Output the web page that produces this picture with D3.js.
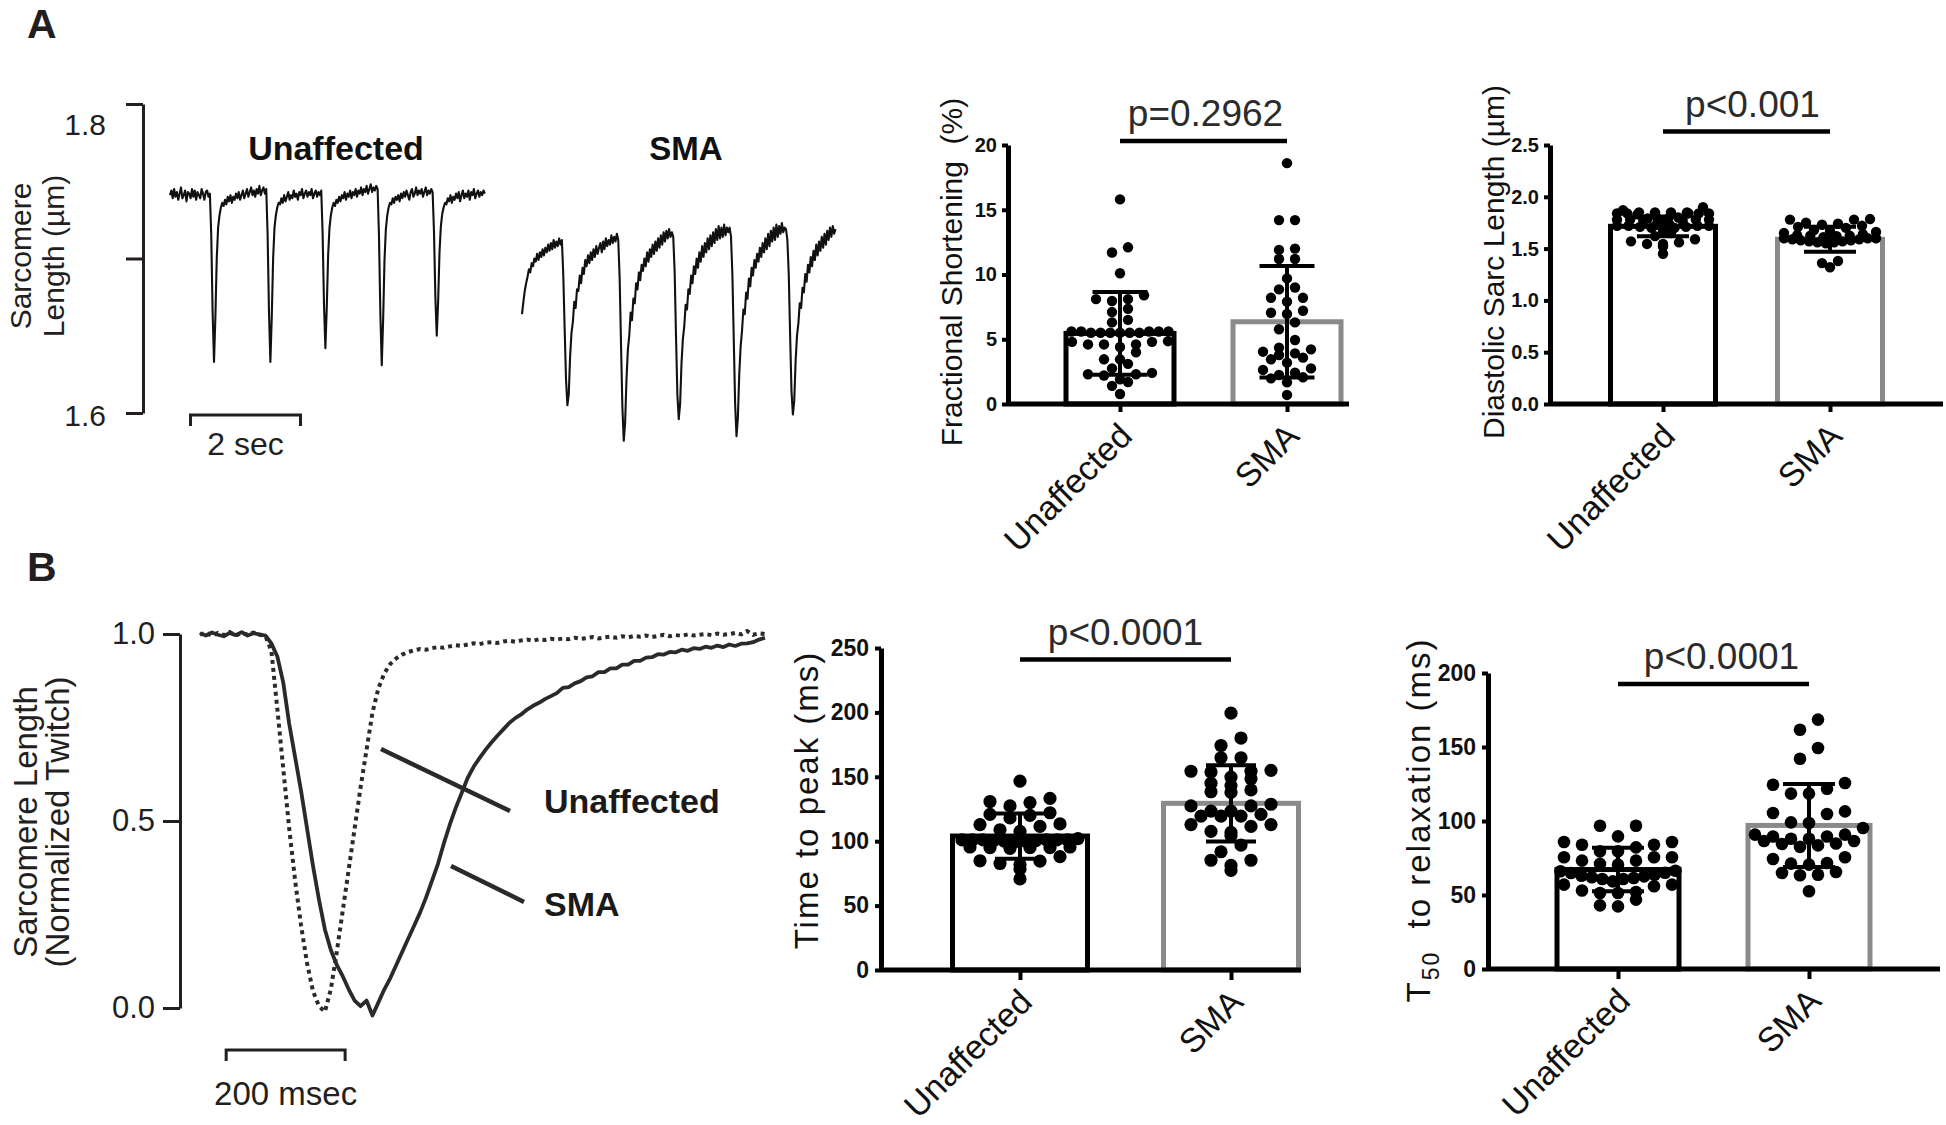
<!DOCTYPE html>
<html><head><meta charset="utf-8">
<script src="https://cdn.jsdelivr.net/npm/d3@7"></script>
<style>
html,body{margin:0;padding:0;background:#fff;}
svg{display:block;font-family:Arial,"Liberation Sans",Helvetica,sans-serif;}
</style></head><body>
<svg id="fig" width="1946" height="1125"></svg>
<script>
// ================= DATA =================
// Panel A raw traces (sarcomere length, µm), sampled every 0.025 s
const traceA_dt = 0.025;
const traceA_unaffected = [
1.741,1.744,1.739,1.745,1.740,1.743,1.738,1.742,1.746,1.739,
1.741,1.744,1.737,1.743,1.742,1.739,1.745,1.740,1.744,1.738,
1.743,1.741,1.739,1.745,1.742,1.738,1.743,1.744,1.740,1.742,
1.715,1.665,1.633,1.662,1.700,1.720,1.728,1.733,1.736,
1.734,1.738,1.735,1.740,1.737,1.741,1.736,1.740,1.738,1.742,
1.739,1.743,1.738,1.741,1.744,1.739,1.742,1.745,1.740,1.743,
1.746,1.741,1.744,1.740,1.745,1.742,1.747,1.741,1.744,1.746,
1.742,1.745,
1.715,1.665,1.633,1.662,1.700,1.720,1.728,1.733,1.736,
1.735,1.739,1.736,1.741,1.737,1.740,1.743,1.738,1.741,1.739,
1.744,1.740,1.742,1.738,1.743,1.741,1.745,1.739,1.742,1.744,
1.740,1.743,1.741,1.745,1.739,1.742,1.744,1.740,1.743,1.741,
1.744,
1.716,1.670,1.642,1.668,1.702,1.720,1.728,1.733,1.736,
1.734,1.738,1.736,1.740,1.737,1.741,1.739,1.743,1.738,1.742,
1.740,1.744,1.739,1.743,1.741,1.745,1.740,1.744,1.742,1.746,
1.741,1.745,1.743,1.747,1.742,1.745,1.748,1.743,1.746,1.744,
1.747,1.745,
1.714,1.664,1.631,1.660,1.699,1.719,1.728,1.733,1.736,
1.735,1.739,1.736,1.740,1.738,1.741,1.737,1.742,1.739,1.743,
1.740,1.744,1.741,1.738,1.743,1.745,1.740,1.742,1.746,1.741,
1.744,1.742,1.745,1.740,1.743,1.746,1.741,1.744,1.742,1.745,
1.743,
1.717,1.675,1.650,1.672,1.704,1.721,1.729,1.733,1.736,
1.735,1.739,1.737,1.741,1.736,1.740,1.738,1.742,1.739,1.743,
1.737,1.741,1.744,1.739,1.742,1.740,1.744,1.738,1.743,1.741,
1.745,1.739,1.742,1.744,1.740,1.743,1.741,1.744,1.742];
const traceA_sma = [
1.664,1.672,1.679,1.684,1.688,1.693,1.691,1.697,1.695,1.700,
1.698,1.703,1.699,1.704,1.701,1.706,1.702,1.707,1.704,1.709,
1.705,1.710,1.706,1.712,1.707,1.711,1.708,1.713,1.709,
1.712,1.690,1.655,1.622,1.605,1.612,
1.637,1.652,1.659,1.672,1.668,1.680,1.679,1.689,1.684,1.694,
1.690,1.699,1.695,1.702,1.697,1.704,1.699,1.706,1.701,1.708,
1.703,1.707,1.710,1.704,1.711,1.706,1.713,1.708,1.712,1.709,
1.715,1.710,1.714,1.711,1.716,
1.712,1.688,1.645,1.604,1.582,1.594,
1.622,1.641,1.650,1.665,1.660,1.674,1.671,1.684,1.680,1.691,
1.686,1.696,1.692,1.700,1.695,1.704,1.698,1.706,1.701,1.709,
1.703,1.711,1.705,1.713,1.707,1.715,1.709,1.717,1.711,1.718,
1.713,1.719,1.714,1.717,
1.714,1.692,1.650,1.612,1.596,1.606,
1.632,1.648,1.656,1.670,1.667,1.680,1.677,1.689,1.684,1.695,
1.690,1.700,1.694,1.704,1.698,1.708,1.701,1.710,1.704,1.713,
1.706,1.715,1.708,1.717,1.710,1.719,1.712,1.721,1.713,1.720,
1.714,1.722,1.715,1.720,1.717,
1.720,1.714,1.690,1.648,1.606,1.585,1.597,
1.625,1.643,1.653,1.667,1.664,1.678,1.674,1.687,1.682,1.694,
1.689,1.699,1.694,1.703,1.698,1.707,1.701,1.710,1.704,1.713,
1.706,1.716,1.708,1.718,1.711,1.720,1.712,1.722,1.714,1.721,
1.716,1.723,1.717,1.720,
1.719,1.712,1.690,1.650,1.614,1.599,1.608,
1.634,1.650,1.658,1.671,1.668,1.681,1.678,1.690,1.685,1.696,
1.691,1.701,1.695,1.705,1.699,1.709,1.702,1.711,1.705,1.714,
1.707,1.716,1.709,1.718,1.712,1.720,1.714,1.721,1.716,1.719];
const traceA_ticks = [1.6, 1.7, 1.8];
const traceA_scaleBarSec = 2;

// Panel B averaged normalized twitches, sampled every 10 ms (0..950 ms)
const traceB_dt = 10;
const traceB_unaffected = [
0.998,1.004,0.995,1.003,0.997,1.005,0.996,1.002,0.999,1.004,0.998,
0.995,0.955,0.80,0.64,0.48,0.34,0.22,0.12,0.045,0.005,-0.01,0.05,
0.15,0.26,0.37,0.48,0.59,0.69,0.79,0.855,0.895,0.92,0.935,0.945,0.952,0.956,
0.960,0.958,0.962,0.965,0.963,0.967,0.970,0.968,0.972,0.975,0.973,0.977,0.978,0.976,
0.980,0.982,0.979,0.983,0.985,0.982,0.986,0.984,0.987,0.985,0.988,0.986,0.990,0.987,
0.989,0.992,0.988,0.991,0.993,0.990,0.994,0.991,0.995,0.993,0.996,0.992,0.995,0.998,
0.994,0.997,0.995,0.999,0.996,0.998,1.000,0.997,1.001,0.998,1.000,1.003,0.999,1.008,
0.998,1.002,1.000];
const traceB_sma = [
1.002,0.996,1.004,0.998,0.994,1.003,0.997,1.005,0.996,1.002,0.999,0.996,
0.975,0.94,0.87,0.76,0.67,0.58,0.48,0.38,0.29,0.21,0.155,0.115,0.085,0.05,0.02,0.005,
0.02,-0.02,0.015,0.05,0.08,0.115,0.15,0.185,0.22,0.255,0.295,0.34,0.385,0.44,0.49,
0.535,0.575,0.615,0.645,0.668,0.69,0.71,0.728,0.745,0.762,0.775,0.785,0.798,0.808,
0.816,0.826,0.834,0.842,0.856,0.858,0.868,0.874,0.884,0.887,0.898,0.898,0.908,0.908,
0.918,0.918,0.928,0.928,0.937,0.938,0.946,0.945,0.952,0.951,0.958,0.955,0.962,0.960,
0.966,0.963,0.969,0.965,0.972,0.968,0.974,0.975,0.978,0.985,0.990];
const traceB_ticks = [0, 0.5, 1.0];
const traceB_scaleBarMs = 200;

// Bar charts
const barCategories = ["Unaffected", "SMA"];

const fsUnaffected = [15.8,12.1,11.7,10.1,8.4,8.1,7.95,8.1,7.1,7.35,6.3,6.5,5.6,5.6,5.5,5.5,5.5,5.6,5.5,5.5,5.5,5.6,5.6,
  4.6,4.6,4.8,4.8,4.85,4.4,4.6,4.0,3.45,3.45,3.1,2.75,2.4,2.3,2.3,2.2,1.7,1.9,1.4,0.77];
const fsSMA = [18.6,14.2,14.2,12.0,11.9,11.2,11.2,9.7,8.85,9.0,8.2,7.9,8.2,7.05,6.95,7.2,6.3,5.77,4.94,4.35,4.04,3.78,
  3.45,3.58,3.91,4.22,3.19,2.75,2.63,2.24,2.06,1.67,1.98,2.42,0.7];
const fsMean = [5.45, 6.35];
const fsSD = [3.2, 4.3];
const fsTicks = [0, 5, 10, 15, 20];
const fsP = "p=0.2962";

const dslUnaffected = [1.90,1.87,1.85,1.84,1.84,1.85,1.84,1.85,1.84,1.85,1.83,1.84,
  1.79,1.78,1.77,1.78,1.79,1.78,1.77,1.78,1.80,1.79,
  1.73,1.72,1.71,1.72,1.70,1.72,1.73,1.71,1.72,1.70,
  1.67,1.65,1.62,1.59,1.56,1.545,1.52,1.545,1.57,1.45];
const dslSMA = [1.78,1.785,1.78,1.75,1.74,1.72,1.70,1.71,1.73,1.65,
  1.625,1.60,1.59,1.58,1.57,1.56,1.55,1.56,1.57,1.58,1.59,1.60,1.625,
  1.60,1.61,1.62,1.63,1.64,1.66,1.67,1.68,1.38,1.32,1.36];
const dslMean = [1.715, 1.59];
const dslSD = [0.095, 0.12];
const dslTicks = [0, 0.5, 1.0, 1.5, 2.0, 2.5];
const dslP = "p<0.001";

const ttpUnaffected = [146.6,133.2,130,127.4,130.8,118.1,120.8,122.1,120,113.4,111.5,108.9,112.9,107.6,
  101,100.5,100,99.5,101,101,102,101,100.5,100,101,101,95,95.5,94.5,95,95,95.5,84.5,81.8,88,78.5,82.7,84.8,70.7];
const ttpSMA = [199.4,180.1,174.3,164.8,164.8,154.3,153.7,154.3,155,145,148.5,149.8,143.2,139.8,137.9,138.4,
  127.4,128.7,127.4,123.4,123.4,119.5,120.8,119.5,119.5,112.9,111.5,107.6,112.9,106.8,104.2,97,91.8,85.2,85.2,77.3,81.2];
const ttpMean = [104, 129.4];
const ttpSD = [17.6, 29.6];
const ttpTicks = [0, 50, 100, 150, 200, 250];
const ttpP = "p<0.0001";

const t50Unaffected = [96.8,96.8,89.6,85.8,84,82.2,84,85.8,79.5,79.5,75.5,75.5,73.2,71,70.5,73.2,75.5,
  66,65,63,62,60.8,60.8,61.5,62.6,63.7,64.9,66.4,53,51.4,46.9,42.3,43,52,51.4,57,55.9,57,59.2];
const t50SMA = [168.5,161.7,149.3,142.1,125.7,124.5,121.8,118.5,118.5,106.5,104.7,105.4,99.1,98.6,95.3,
  90.8,89.5,88,86.5,84.8,83.5,82.5,84.5,86.5,88,89.5,90.8,74.3,71.2,70.5,71.6,75.5,63.7,65.5,63.3,64.9,52.5];
const t50Mean = [67.2, 97];
const t50SD = [14.7, 28];
const t50Ticks = [0, 50, 100, 150, 200];
const t50P = "p<0.0001";

// ================= DRAW =================
const svg = d3.select("#fig");
const ink = "#231f20";
const barColors = ["#000000", "#8a8a8a"];

// Panel letters
svg.append("text").attr("x", 27).attr("y", 38).text("A")
  .style("font", "bold 41px Arial").attr("fill", ink);
svg.append("text").attr("x", 27).attr("y", 581).text("B")
  .style("font", "bold 41px Arial").attr("fill", ink);

// ---------- Panel A trace ----------
(function(){
  const g = svg.append("g");
  const y = d3.scaleLinear().domain([1.6, 1.8]).range([413, 104]);
  const xU = d3.scaleLinear().domain([0, 1]).range([170, 225]);   // 55 px / s
  const xS = d3.scaleLinear().domain([0, 1]).range([522, 577]);
  const ax = g.append("g").attr("transform", "translate(143,0)")
    .call(d3.axisLeft(y).tickValues(traceA_ticks).tickSize(17).tickPadding(20).tickSizeOuter(0)
      .tickFormat(d => Math.abs(d - 1.7) < 1e-9 ? "" : d3.format(".1f")(d)));
  ax.select(".domain").attr("stroke", ink).attr("stroke-width", 3);
  ax.selectAll(".tick line").attr("stroke", ink).attr("stroke-width", 3);
  ax.selectAll(".tick text").style("font", "30px Arial").attr("fill", ink)
    .attr("dy", d => d === 1.8 ? "1.0em" : "0.4em");
  const lineU = d3.line().x((d, i) => xU(i * traceA_dt)).y(d => y(d));
  const lineS = d3.line().x((d, i) => xS(i * traceA_dt)).y(d => y(d));
  g.append("path").attr("d", lineU(traceA_unaffected)).attr("fill", "none")
    .attr("stroke", "#111").attr("stroke-width", 2.1).attr("stroke-linejoin", "round");
  g.append("path").attr("d", lineS(traceA_sma)).attr("fill", "none")
    .attr("stroke", "#111").attr("stroke-width", 2.1).attr("stroke-linejoin", "round");
  g.append("text").attr("x", 336).attr("y", 160).attr("text-anchor", "middle")
    .style("font", "bold 34px Arial").attr("fill", "#111").text("Unaffected");
  g.append("text").attr("x", 686).attr("y", 160).attr("text-anchor", "middle")
    .style("font", "bold 33px Arial").attr("fill", "#111").text("SMA");
  // title
  const t = g.append("text").attr("transform", "translate(31,256) rotate(-90)")
    .attr("text-anchor", "middle").style("font", "30px Arial").attr("fill", ink);
  t.append("tspan").attr("x", 0).attr("y", 0).text("Sarcomere");
  t.append("tspan").attr("x", 0).attr("y", 33).text("Length (µm)");
  // scale bar
  const s0 = 0.373, x0 = xU(s0), x1 = xU(s0 + traceA_scaleBarSec);
  g.append("path").attr("d", `M${x0},426V415H${x1}V426`).attr("fill", "none")
    .attr("stroke", ink).attr("stroke-width", 3);
  g.append("text").attr("x", (x0 + x1) / 2).attr("y", 455).attr("text-anchor", "middle")
    .style("font", "32px Arial").attr("fill", ink).text(traceA_scaleBarSec + " sec");
})();

// ---------- Panel B trace ----------
(function(){
  const g = svg.append("g");
  const y = d3.scaleLinear().domain([0, 1]).range([1008, 634]);
  const x = d3.scaleLinear().domain([0, 950]).range([200, 765]);
  const ax = g.append("g").attr("transform", "translate(180,0)")
    .call(d3.axisLeft(y).tickValues(traceB_ticks).tickSize(17).tickPadding(8).tickSizeOuter(0)
      .tickFormat(d3.format(".1f")));
  ax.select(".domain").attr("stroke", ink).attr("stroke-width", 3);
  ax.selectAll(".tick line").attr("stroke", ink).attr("stroke-width", 3);
  ax.selectAll(".tick text").style("font", "31px Arial").attr("fill", ink);
  const line = d3.line().x((d, i) => x(i * traceB_dt)).y(d => y(d));
  g.append("path").attr("d", line(traceB_unaffected)).attr("fill", "none")
    .attr("stroke", "#2a2a2a").attr("stroke-width", 4).attr("stroke-dasharray", "4 4");
  g.append("path").attr("d", line(traceB_sma)).attr("fill", "none")
    .attr("stroke", "#2a2a2a").attr("stroke-width", 3.8).attr("stroke-linejoin", "round");
  // leaders + labels
  g.append("line").attr("x1", 381).attr("y1", 749).attr("x2", 510).attr("y2", 811)
    .attr("stroke", "#2a2a2a").attr("stroke-width", 4.5);
  g.append("line").attr("x1", 451).attr("y1", 866).attr("x2", 524).attr("y2", 902)
    .attr("stroke", "#2a2a2a").attr("stroke-width", 4.5);
  g.append("text").attr("x", 544).attr("y", 813).style("font", "bold 34px Arial")
    .attr("fill", "#1a1a1a").text("Unaffected");
  g.append("text").attr("x", 544).attr("y", 916).style("font", "bold 34px Arial")
    .attr("fill", "#1a1a1a").text("SMA");
  // title
  const t = g.append("text").attr("transform", "translate(37,822) rotate(-90)")
    .attr("text-anchor", "middle").style("font", "33px Arial").attr("fill", ink);
  t.append("tspan").attr("x", 0).attr("y", 0).text("Sarcomere Length");
  t.append("tspan").attr("x", 0).attr("y", 32).text("(Normalized Twitch)");
  // scale bar
  const x0 = x(44), x1 = x(44 + traceB_scaleBarMs);
  g.append("path").attr("d", `M${x0},1061V1050H${x1}V1061`).attr("fill", "none")
    .attr("stroke", ink).attr("stroke-width", 3);
  g.append("text").attr("x", (x0 + x1) / 2).attr("y", 1105).attr("text-anchor", "middle")
    .style("font", "33px Arial").attr("fill", ink).text(traceB_scaleBarMs + " msec");
})();

// ---------- scatter-dot row layout (rows spread symmetrically, like Prism) ----------
function rowLayout(values, y, rowH, maxSp, maxW) {
  const pts = values.map(v => ({ v, y: y(v), x: 0 }));
  const sorted = pts.slice().sort((a, b) => b.v - a.v);
  const rows = [];
  let cur = null;
  sorted.forEach(p => {
    if (!cur || p.y - cur.y0 >= rowH) { cur = { y0: p.y, pts: [] }; rows.push(cur); }
    cur.pts.push(p);
  });
  rows.forEach(r => {
    const n = r.pts.length;
    const sp = n > 1 ? Math.min(maxSp, maxW / (n - 1)) : 0;
    const offs = d3.range(n).map(k => (k - (n - 1) / 2) * sp);
    offs.sort((a, b) => (Math.abs(a) - Math.abs(b)) || (a - b));
    r.pts.slice().sort((a, b) => a.v - b.v).forEach((p, i) => { p.x = offs[i]; });
  });
  return pts;
}

// ---------- bar chart ----------
function barChart(c) {
  const g = svg.append("g");
  const y = d3.scaleLinear().domain([0, c.max]).range([c.yBot, c.yTop]);
  const x = d3.scalePoint().domain(barCategories).range(c.centers);
  // bars
  g.selectAll("rect.bar").data(barCategories).join("rect").attr("class", "bar")
    .attr("x", d => x(d) - c.barW / 2).attr("y", (d, i) => y(c.mean[i]))
    .attr("width", c.barW).attr("height", (d, i) => y(0) - y(c.mean[i]))
    .attr("fill", "#fff").attr("stroke", (d, i) => barColors[i]).attr("stroke-width", 5);
  // x axis
  g.append("line").attr("x1", c.axisX).attr("x2", c.xEnd).attr("y1", y(0)).attr("y2", y(0))
    .attr("stroke", "#000").attr("stroke-width", 5);
  const xa = g.append("g").attr("transform", `translate(0,${y(0)})`)
    .call(d3.axisBottom(x).tickSize(c.yBot > 600 ? 10 : 8).tickSizeOuter(0).tickFormat(""));
  xa.select(".domain").remove();
  xa.selectAll(".tick line").attr("stroke", "#000").attr("stroke-width", 4);
  g.selectAll("text.cat").data(barCategories).join("text").attr("class", "cat")
    .attr("transform", d => `translate(${x(d) + 14},${y(0) + 34}) rotate(-45)`)
    .attr("text-anchor", "end").style("font", `${c.catFont}px Arial`).attr("fill", "#111").text(d => d);
  // dots
  [c.unaff, c.sma].forEach((vals, i) => {
    const pts = rowLayout(vals, y, c.rowH, c.maxSp, c.maxW);
    g.append("g").selectAll("circle").data(pts).join("circle")
      .attr("cx", p => x(barCategories[i]) + p.x).attr("cy", p => p.y).attr("r", c.r).attr("fill", "#000");
  });
  // error bars
  barCategories.forEach((cat, i) => {
    const cx = x(cat), lo = y(c.mean[i] - c.sd[i]), hi = y(c.mean[i] + c.sd[i]);
    g.append("path").attr("d", `M${cx},${lo}V${hi}M${cx - c.capW / 2},${hi}H${cx + c.capW / 2}M${cx - c.capW / 2},${lo}H${cx + c.capW / 2}`)
      .attr("stroke", "#000").attr("stroke-width", 4).attr("fill", "none");
  });
  // y axis
  const ya = g.append("g").attr("transform", `translate(${c.axisX},0)`)
    .call(d3.axisLeft(y).tickValues(c.ticks).tickSize(6).tickPadding(c.tickPad).tickSizeOuter(0)
      .tickFormat(c.fmt));
  ya.select(".domain").attr("stroke", "#000").attr("stroke-width", 5);
  ya.selectAll(".tick line").attr("stroke", "#000").attr("stroke-width", 4);
  ya.selectAll(".tick text").style("font", `bold ${c.tickFont}px Arial`).attr("fill", "#111");
  // title
  const t = g.append("text").attr("transform", `translate(${c.titleX},${c.titleY}) rotate(-90)`)
    .attr("text-anchor", "middle").style("font", `${c.titleSize}px Arial`)
    .style("letter-spacing", c.ls + "px").attr("fill", "#111");
  c.title(t);
  // significance
  const sy = y(c.sigV);
  g.append("line").attr("x1", c.centers[0]).attr("x2", c.centers[1]).attr("y1", sy).attr("y2", sy)
    .attr("stroke", "#000").attr("stroke-width", 4.5);
  g.append("text").attr("x", (c.centers[0] + c.centers[1]) / 2 + c.pdx).attr("y", sy - 15)
    .attr("text-anchor", "middle").style("font", "37px Arial").attr("fill", "#2b2b2b").text(c.p);
}

barChart({ axisX: 1008, yTop: 145, yBot: 404, max: 20, xEnd: 1349, centers: [1120, 1287], barW: 108,
  r: 5.2, rowH: 8, maxSp: 16, maxW: 97, capW: 55, tickFont: 20, tickPad: 5, fmt: d3.format("d"), ticks: fsTicks,
  unaff: fsUnaffected, sma: fsSMA, mean: fsMean, sd: fsSD, p: fsP, sigV: 20.3, pdx: 2, catFont: 34,
  titleX: 962, titleY: 272, titleSize: 30, ls: 0,
  title: t => t.text("Fractional Shortening\u00a0\u00a0(%)") });

barChart({ axisX: 1550, yTop: 145, yBot: 404, max: 2.5, xEnd: 1943, centers: [1663, 1830], barW: 105,
  r: 5.2, rowH: 6, maxSp: 16, maxW: 92, capW: 52, tickFont: 20, tickPad: 5, fmt: d3.format(".1f"), ticks: dslTicks,
  unaff: dslUnaffected, sma: dslSMA, mean: dslMean, sd: dslSD, p: dslP, sigV: 2.63, pdx: 6, catFont: 34,
  titleX: 1504, titleY: 262, titleSize: 30, ls: 0,
  title: t => t.text("Diastolic Sarc Length (µm)") });

barChart({ axisX: 881, yTop: 648, yBot: 970, max: 250, xEnd: 1301, centers: [1020, 1231], barW: 135,
  r: 6.6, rowH: 8, maxSp: 20, maxW: 116, capW: 50, tickFont: 23, tickPad: 6, fmt: d3.format("d"), ticks: ttpTicks,
  unaff: ttpUnaffected, sma: ttpSMA, mean: ttpMean, sd: ttpSD, p: ttpP, sigV: 241, pdx: 0, catFont: 34,
  titleX: 818, titleY: 800, titleSize: 33, ls: 2,
  title: t => t.text("Time to peak (ms)") });

barChart({ axisX: 1488, yTop: 673, yBot: 969, max: 200, xEnd: 1940, centers: [1618, 1809], barW: 122,
  r: 6.3, rowH: 12, maxSp: 18, maxW: 115, capW: 52, tickFont: 23, tickPad: 6, fmt: d3.format("d"), ticks: t50Ticks,
  unaff: t50Unaffected, sma: t50SMA, mean: t50Mean, sd: t50SD, p: t50P, sigV: 192.5, pdx: 8, catFont: 34,
  titleX: 1430, titleY: 820, titleSize: 33, ls: 2,
  title: t => {
    t.append("tspan").text("T");
    t.append("tspan").attr("dy", 9).style("font-size", "23px").text("50");
    t.append("tspan").attr("dy", -9).text("\u00a0\u00a0to relaxation (ms)");
  } });
</script>
</body></html>
